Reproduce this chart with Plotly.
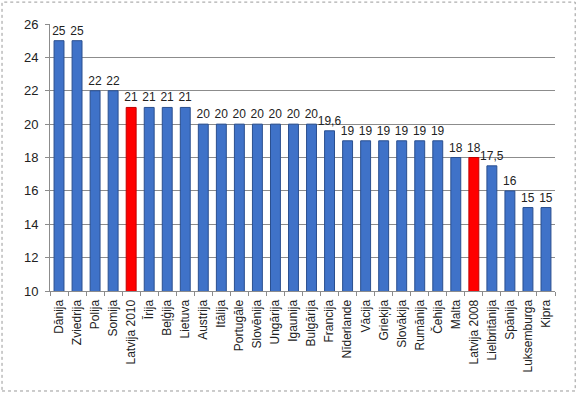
import plotly.graph_objects as go

categories = ["Dānija", "Zviedrija", "Polija", "Somija", "Latvija 2010", "Īrija", "Beļģija",
              "Lietuva", "Austrija", "Itālija", "Portugāle", "Slovēnija", "Ungārija", "Igaunija",
              "Bulgārija", "Francija", "Nīderlande", "Vācija", "Grieķija", "Slovākija", "Rumānija",
              "Čehija", "Malta", "Latvija 2008", "Lielbritānija", "Spānija", "Luksemburga", "Kipra"]
values = [25, 25, 22, 22, 21, 21, 21, 21, 20, 20, 20, 20, 20, 20, 20, 19.6, 19, 19, 19, 19, 19,
          19, 18, 18, 17.5, 16, 15, 15]
label_texts = ["25", "25", "22", "22", "21", "21", "21", "21", "20", "20", "20", "20", "20", "20",
               "20", "19,6", "19", "19", "19", "19", "19", "19", "18", "18", "17,5", "16", "15", "15"]
highlight = ["Latvija 2010", "Latvija 2008"]

colors = ["#FF0000" if c in highlight else "#3F72C8" for c in categories]
lines = ["#C00000" if c in highlight else "#2A4F8F" for c in categories]

fig = go.Figure()
fig.add_trace(go.Bar(
    x=categories, y=values,
    marker=dict(color=colors, line=dict(color=lines, width=1)),
    width=0.55,
    text=label_texts, textposition="outside", cliponaxis=False, constraintext="none",
    textfont=dict(family="Liberation Sans, Arial, sans-serif", size=12, color="#222222"),
))

fig.update_layout(
    width=578, height=394,
    margin=dict(l=50, r=23, t=24, b=103, autoexpand=False),
    paper_bgcolor="white", plot_bgcolor="white",
    showlegend=False,
    font=dict(family="Liberation Sans, Arial, sans-serif", size=12, color="#222222"),
    yaxis=dict(range=[10, 26], dtick=2, showgrid=True, gridcolor="#8C8C8C", gridwidth=1,
               showline=True, linecolor="#8C8C8C", ticks="outside", ticklen=4, tickcolor="#8C8C8C",
               tickfont=dict(size=13), zeroline=False, automargin=False, ticklabelstandoff=4),
    xaxis=dict(tickangle=-90, showline=True, linecolor="#8C8C8C", ticks="outside",
               ticklen=4, tickcolor="#8C8C8C", tickson="boundaries",
               tickfont=dict(size=12), range=[-0.5, 27.5], automargin=False, ticklabelstandoff=3),
    shapes=[dict(type="rect", xref="paper", yref="paper", x0=-0.095, y0=-0.3745, x1=1.04, y1=1.082,
                 line=dict(color="#999999", width=1, dash="dot"))],
)

fig.write_html("out.html", config={"displayModeBar": False},
               post_script="document.body.style.margin='0px';document.body.style.padding='0px';")
